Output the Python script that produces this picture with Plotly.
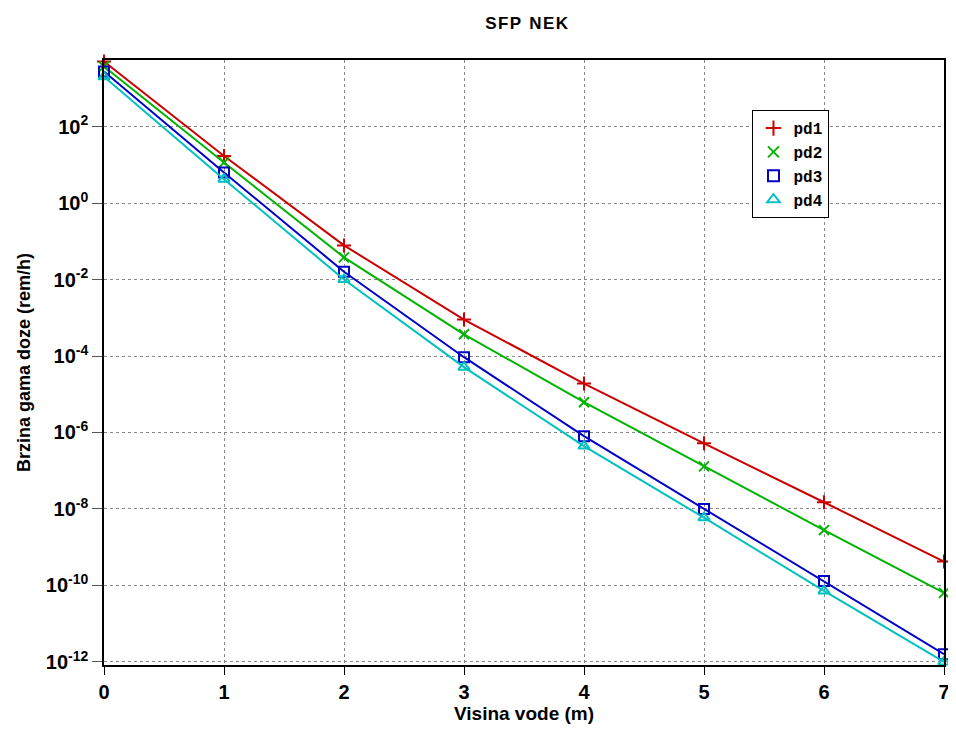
import plotly.graph_objects as go

visina = [0, 1, 2, 3, 4, 5, 6, 7]

pd1 = [5.0e3, 17, 7.8e-2, 9.0e-4, 1.9e-5, 5.2e-7, 1.5e-8, 4.2e-10]
pd2 = [3.7e3, 11.5, 3.8e-2, 3.7e-4, 6.2e-6, 1.3e-7, 2.8e-9, 6.4e-11]
pd3 = [2.75e3, 6.3, 1.6e-2, 9.3e-5, 8.0e-7, 1.0e-8, 1.3e-10, 1.6e-12]
pd4 = [2.0e3, 4.2, 1.0e-2, 5.1e-5, 4.4e-7, 5.9e-9, 7.2e-11, 1.0e-12]

names   = ["pd1", "pd2", "pd3", "pd4"]
colors  = ["#cc0000", "#00b400", "#0000c8", "#00c0c0"]
symbols = ["cross-thin-open", "x-thin-open", "square-open", "triangle-up-open"]

x_tickvals = [0, 1, 2, 3, 4, 5, 6, 7]
y_tickvals = [1e2, 1e0, 1e-2, 1e-4, 1e-6, 1e-8, 1e-10, 1e-12]
y_ticktext = ["10<sup>2</sup>", "10<sup>0</sup>", "10<sup>-2</sup>", "10<sup>-4</sup>",
              "10<sup>-6</sup>", "10<sup>-8</sup>", "10<sup>-10</sup>", "10<sup>-12</sup>"]

fig = go.Figure()
for name, vals, col, sym in zip(names, [pd1, pd2, pd3, pd4], colors, symbols):
    # the curve itself
    fig.add_trace(go.Scatter(
        x=visina, y=vals, name=name, showlegend=False,
        mode="lines+markers",
        line=dict(color=col, width=2),
        marker=dict(symbol=sym, size=10, color=col, line=dict(color=col, width=2)),
        cliponaxis=False,
    ))
    # legend entry: marker only, like the original
    fig.add_trace(go.Scatter(
        x=[None], y=[None], name=name, mode="markers",
        marker=dict(symbol=sym, size=11, color=col, line=dict(color=col, width=2)),
    ))

# page body adds 8px offset, so figure is 948x721
fig.update_layout(
    width=948, height=721,
    plot_bgcolor="white", paper_bgcolor="white",
    margin=dict(l=96, r=6, t=52, b=64),
    font=dict(family="Liberation Sans", color="black"),
    title=dict(text="<b>S\u200aF\u200aP\u2009 N\u200aE\u200aK</b>", x=0.547, xanchor="center",
               y=0.979, yanchor="middle",
               font=dict(size=17, family="Liberation Sans")),
    legend=dict(
        x=0.772, y=0.917, xanchor="left", yanchor="top",
        bgcolor="white", bordercolor="black", borderwidth=1,
        font=dict(family="Liberation Mono", size=16, color="black", weight="bold"),
        tracegroupgap=0, itemwidth=30,
    ),
    showlegend=True,
)

fig.update_xaxes(
    range=[0, 7], tickvals=x_tickvals, ticktext=["<b>%d</b>" % v for v in x_tickvals],
    ticklabeloverflow="allow",
    showline=True, linecolor="black", linewidth=1.5, mirror=True,
    ticks="outside", ticklen=8, tickcolor="black",
    showgrid=True, gridcolor="#888888", griddash="dot", gridwidth=1,
    zeroline=False,
    tickfont=dict(size=20, family="Liberation Sans"),
    title=dict(text="<b>Visina vode (m)</b>", font=dict(size=19), standoff=2),
)

fig.update_yaxes(
    type="log", range=[-12.08, 3.74],
    tickvals=y_tickvals, ticktext=["<b>%s</b>" % t for t in y_ticktext],
    showline=True, linecolor="black", linewidth=1.5, mirror=True,
    ticks="outside", ticklen=10, tickcolor="#555555",
    showgrid=True, gridcolor="#888888", griddash="dot", gridwidth=1,
    zeroline=False,
    tickfont=dict(size=20, family="Liberation Sans"),
    title=dict(text="<b>Brzina gama doze (rem/h)</b>", font=dict(size=18), standoff=10),
)

fig.write_html("out.html")
